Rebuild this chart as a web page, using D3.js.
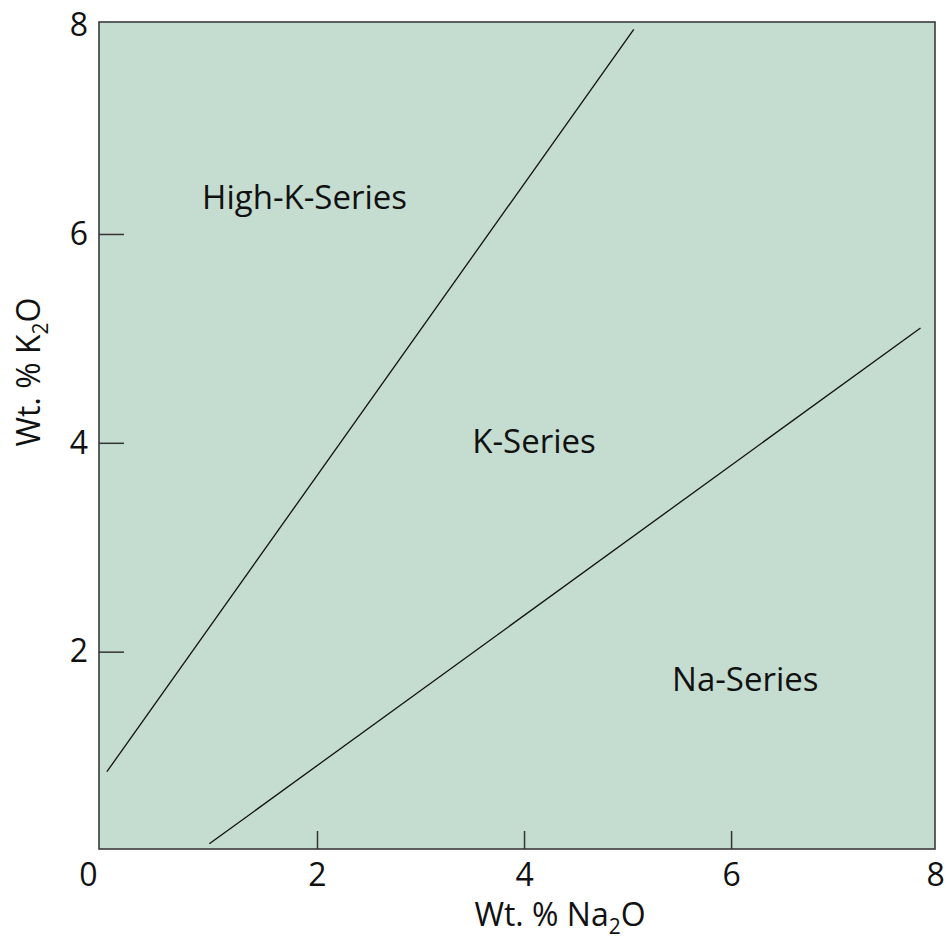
<!DOCTYPE html>
<html>
<head>
<meta charset="utf-8">
<script src="https://cdn.jsdelivr.net/npm/d3@7"></script>
<style>
  body { margin: 0; background: #fff; }
  svg text { font-family: "Open Sans", "Noto Sans", sans-serif; fill: #111; }
</style>
</head>
<body>
<div id="chart"></div>
<script>
// plot frame extents in data units (Wt. % Na2O, Wt. % K2O)
var xExtent = [-0.106, 7.97];
var yExtent = [0.11, 8.03];

// tick values
var xTickLabels = [0, 2, 4, 6, 8];
var yTickLabels = [2, 4, 6, 8];
var innerTicks = [2, 4, 6];

// series boundary lines [Na2O, K2O]
var highKBoundary = [[-0.03, 0.85], [5.06, 7.96]];
var naBoundary = [[0.96, 0.16], [7.83, 5.10]];

// field labels
var fieldNames = ["High-K-Series", "K-Series", "Na-Series"];
var fieldNa2O = [0.89, 3.50, 5.43];
var fieldK2O = [6.24, 3.90, 1.62];

var width = 949, height = 940;
var plotLeft = 99, plotRight = 935, plotTop = 22, plotBottom = 849;

var svg = d3.select('#chart').append('svg')
    .attr('width', width)
    .attr('height', height);

var x = d3.scaleLinear().domain(xExtent).range([plotLeft, plotRight]);
var y = d3.scaleLinear().domain(yExtent).range([plotBottom, plotTop]);

// background + frame
svg.append('rect')
    .attr('x', x(xExtent[0]))
    .attr('y', y(yExtent[1]))
    .attr('width', x(xExtent[1]) - x(xExtent[0]))
    .attr('height', y(yExtent[0]) - y(yExtent[1]))
    .attr('fill', '#c5dcd0')
    .attr('stroke', '#3a3a3a')
    .attr('stroke-width', 1.6);

// boundary lines
var line = d3.line()
    .x(function(d) { return x(d[0]); })
    .y(function(d) { return y(d[1]); });

svg.selectAll('path.boundary')
    .data([highKBoundary, naBoundary])
  .enter().append('path')
    .attr('class', 'boundary')
    .attr('d', line)
    .attr('fill', 'none')
    .attr('stroke', '#111')
    .attr('stroke-width', 1.3);

// axes
var xAxis = d3.axisBottom(x)
    .tickValues(xTickLabels)
    .tickSizeInner(-18)
    .tickSizeOuter(0)
    .tickPadding(14)
    .tickFormat(d3.format('d'));

var yAxis = d3.axisLeft(y)
    .tickValues(yTickLabels)
    .tickSizeInner(-25)
    .tickSizeOuter(0)
    .tickPadding(11)
    .tickFormat(d3.format('d'));

var gx = svg.append('g')
    .attr('transform', 'translate(0,' + plotBottom + ')')
    .call(xAxis);
var gy = svg.append('g')
    .attr('transform', 'translate(' + plotLeft + ',0)')
    .call(yAxis);

[gx, gy].forEach(function(g) {
  g.select('.domain').remove();
  g.selectAll('.tick line')
      .attr('stroke', '#333')
      .attr('stroke-width', 1.5)
      .attr('display', function(d) { return innerTicks.indexOf(d) < 0 ? 'none' : null; });
  g.selectAll('.tick text')
      .attr('font-size', 32)
      .attr('font-family', null)
      .attr('fill', '#111');
});
// the origin label sits left of the corner
gx.selectAll('.tick text').filter(function(d) { return d === 0; }).attr('dx', -22);
gx.selectAll('.tick text').filter(function(d) { return d === 8; }).attr('dx', -3);

// field labels
svg.selectAll('text.field')
    .data(fieldNames)
  .enter().append('text')
    .attr('class', 'field')
    .attr('x', function(d, i) { return x(fieldNa2O[i]); })
    .attr('y', function(d, i) { return y(fieldK2O[i]); })
    .attr('font-size', 33)
    .text(function(d) { return d; });

// axis titles
var xt = svg.append('text')
    .attr('x', 560)
    .attr('y', 926)
    .attr('text-anchor', 'middle')
    .attr('font-size', 32);
xt.append('tspan').text('Wt. % Na');
xt.append('tspan').attr('font-size', 21).attr('dy', 8).text('2');
xt.append('tspan').attr('dy', -8).text('O');

var yt = svg.append('text')
    .attr('transform', 'translate(40,372) rotate(-90)')
    .attr('text-anchor', 'middle')
    .attr('font-size', 32);
yt.append('tspan').text('Wt. % K');
yt.append('tspan').attr('font-size', 21).attr('dy', 8).text('2');
yt.append('tspan').attr('dy', -8).text('O');
</script>
</body>
</html>
